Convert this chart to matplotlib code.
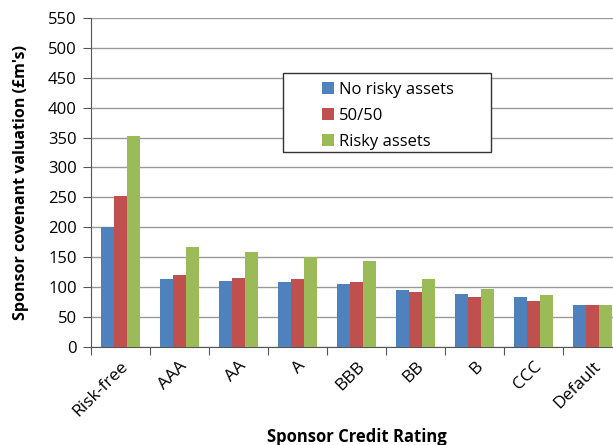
import matplotlib.pyplot as plt
from matplotlib.patches import Rectangle
import numpy as np

# ratings on the x axis
ratings = ['Risk-free', 'AAA', 'AA', 'A', 'BBB', 'BB', 'B', 'CCC', 'Default']

# valuation in GBP m for each asset strategy
no_risky = [200, 113, 110, 108, 105, 95, 89, 84, 71]
fifty_fifty = [253, 121, 116, 113, 108, 92, 84, 77, 71]
risky = [352, 167, 159, 151, 143, 114, 97, 87, 71]

series = [('No risky assets', no_risky, '#4F81BD'),
          ('50/50', fifty_fifty, '#C0504D'),
          ('Risky assets', risky, '#9BBB59')]

plt.rcParams['font.family'] = ['Open Sans', 'DejaVu Sans']

fig = plt.figure(figsize=(6.13, 4.45), dpi=100)
ax = fig.add_axes([0.148, 0.22, 0.867, 0.74])

x = np.arange(len(ratings))
width = 0.22
for i, (label, vals, col) in enumerate(series):
    ax.bar(x + (i - 1) * width, vals, width, color=col, label=label, zorder=3)

ax.set_ylim(0, 550)
ax.set_yticks(np.arange(0, 551, 50))
ax.set_xlim(-0.5, len(ratings) - 0.5)
ax.grid(axis='y', color='#9a9a9a', linewidth=1.0, zorder=0)

# ticks between categories
ax.set_xticks(np.arange(-0.5, len(ratings), 1.0))
ax.set_xticklabels([])
ax.set_xticks(x, minor=True)
ax.set_xticklabels(ratings, minor=True, rotation=45, ha='right',
                   rotation_mode='anchor', fontsize=12.5)
ax.tick_params(axis='x', which='minor', length=0, pad=8)
ax.tick_params(axis='x', which='major', length=6, color='#555555')
ax.tick_params(axis='y', length=6, color='#555555', labelsize=12, pad=4)

for s in ['top', 'right']:
    ax.spines[s].set_visible(False)
ax.spines['left'].set_color('#555555')
ax.spines['bottom'].set_color('#555555')

ax.set_ylabel("Sponsor covenant valuation (£m's)", fontsize=11.5,
              fontweight='bold', labelpad=14)
ax.set_xlabel('Sponsor Credit Rating', fontsize=12, fontweight='bold',
              labelpad=6)

# legend box drawn separately (wider than its entries, as in the original)
ax.add_patch(Rectangle((0.362, 0.592), 0.391, 0.240, transform=ax.transAxes,
                       facecolor='white', edgecolor='#333333', linewidth=1.0,
                       zorder=4))
leg = ax.legend(loc='upper left', bbox_to_anchor=(0.435, 0.806),
                frameon=False, fontsize=12, handlelength=0.75,
                handleheight=0.75, handletextpad=0.3, borderpad=0,
                labelspacing=0.6, borderaxespad=0)
leg.set_zorder(5)

fig.savefig('out.png', dpi=100)
